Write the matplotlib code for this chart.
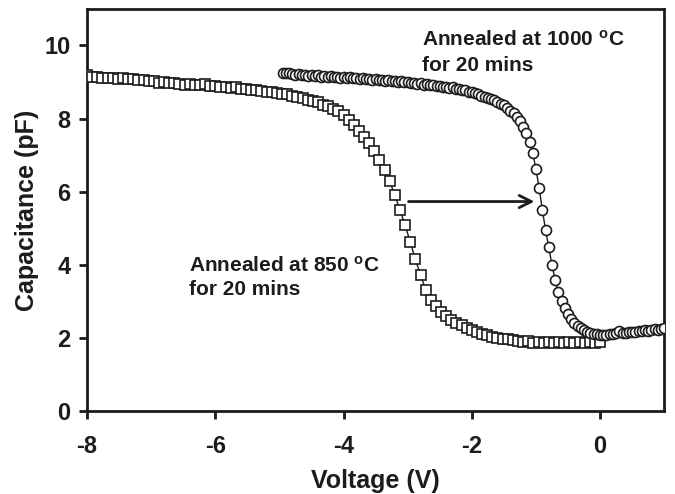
import matplotlib
matplotlib.use("Agg")
import matplotlib.pyplot as plt

plt.rcParams['font.family'] = ['Liberation Sans', 'DejaVu Sans']
plt.rcParams['font.weight'] = 'bold'
plt.rcParams['axes.unicode_minus'] = False
plt.rcParams['mathtext.fontset'] = 'custom'
plt.rcParams['mathtext.rm'] = 'Liberation Sans:bold'
plt.rcParams['mathtext.it'] = 'Liberation Sans:bold'
plt.rcParams['mathtext.bf'] = 'Liberation Sans:bold'

# 850 C anneal (squares)
v_850 = [-8.00, -7.92, -7.84, -7.76, -7.68, -7.60, -7.52, -7.44, -7.36, -7.28,
         -7.20, -7.12, -7.04, -6.96, -6.88, -6.80, -6.72, -6.64, -6.56, -6.48,
         -6.40, -6.32, -6.24, -6.16, -6.08, -6.00, -5.92, -5.84, -5.76, -5.68,
         -5.60, -5.52, -5.44, -5.36, -5.28, -5.20, -5.12, -5.04, -4.96, -4.88,
         -4.80, -4.72, -4.64, -4.56, -4.48, -4.40, -4.32, -4.24, -4.16, -4.08,
         -4.00, -3.92, -3.84, -3.76, -3.68, -3.60, -3.52, -3.44, -3.36, -3.28,
         -3.20, -3.12, -3.04, -2.96, -2.88, -2.80, -2.72, -2.64, -2.56, -2.48,
         -2.40, -2.32, -2.24, -2.16, -2.08, -2.00, -1.92, -1.84, -1.76, -1.68,
         -1.60, -1.52, -1.44, -1.36, -1.28, -1.20, -1.12, -1.04, -0.96, -0.88,
         -0.80, -0.72, -0.64, -0.56, -0.48, -0.40, -0.32, -0.24, -0.16, -0.08,
         0.00]
c_850 = [9.18, 9.14, 9.13, 9.12, 9.10, 9.12, 9.09, 9.10, 9.07, 9.08,
         9.05, 9.06, 9.03, 9.02, 8.98, 9.01, 8.96, 8.98, 8.95, 8.93,
         8.94, 8.91, 8.92, 8.95, 8.89, 8.90, 8.86, 8.87, 8.84, 8.85,
         8.81, 8.80, 8.78, 8.79, 8.75, 8.74, 8.72, 8.70, 8.68, 8.66,
         8.62, 8.60, 8.55, 8.52, 8.47, 8.44, 8.38, 8.33, 8.27, 8.20,
         8.10, 7.96, 7.82, 7.66, 7.50, 7.32, 7.10, 6.86, 6.60, 6.28,
         5.90, 5.50, 5.08, 4.62, 4.15, 3.72, 3.32, 3.05, 2.86, 2.72,
         2.60, 2.50, 2.42, 2.35, 2.28, 2.22, 2.16, 2.12, 2.08, 2.03,
         2.01, 1.98, 1.96, 1.93, 1.92, 1.89, 1.91, 1.87, 1.89, 1.86,
         1.88, 1.85, 1.89, 1.86, 1.90, 1.86, 1.88, 1.85, 1.89, 1.86,
         1.88]

# 1000 C anneal (circles)
v_1000 = [-4.95, -4.90, -4.85, -4.80, -4.75, -4.70, -4.65, -4.60, -4.55, -4.50,
          -4.45, -4.40, -4.35, -4.30, -4.25, -4.20, -4.15, -4.10, -4.05, -4.00,
          -3.95, -3.90, -3.85, -3.80, -3.75, -3.70, -3.65, -3.60, -3.55, -3.50,
          -3.45, -3.40, -3.35, -3.30, -3.25, -3.20, -3.15, -3.10, -3.05, -3.00,
          -2.95, -2.90, -2.85, -2.80, -2.75, -2.70, -2.65, -2.60, -2.55, -2.50,
          -2.45, -2.40, -2.35, -2.30, -2.25, -2.20, -2.15, -2.10, -2.05, -2.00,
          -1.95, -1.90, -1.85, -1.80, -1.75, -1.70, -1.65, -1.60, -1.55, -1.50,
          -1.45, -1.40, -1.35, -1.30, -1.25, -1.20, -1.15, -1.10, -1.05, -1.00,
          -0.95, -0.90, -0.85, -0.80, -0.75, -0.70, -0.65, -0.60, -0.55, -0.50,
          -0.45, -0.40, -0.35, -0.30, -0.25, -0.20, -0.15, -0.10, -0.05, 0.00,
          0.05, 0.10, 0.15, 0.20, 0.25, 0.30, 0.35, 0.40, 0.45, 0.50,
          0.55, 0.60, 0.65, 0.70, 0.75, 0.80, 0.85, 0.90, 0.95, 1.00]
c_1000 = [9.25, 9.24, 9.25, 9.22, 9.20, 9.23, 9.19, 9.20, 9.17, 9.19,
          9.16, 9.18, 9.15, 9.17, 9.14, 9.16, 9.13, 9.15, 9.12, 9.14,
          9.11, 9.13, 9.10, 9.12, 9.09, 9.10, 9.08, 9.09, 9.06, 9.08,
          9.05, 9.06, 9.03, 9.05, 9.02, 9.03, 9.00, 9.02, 8.99, 9.00,
          8.97, 8.98, 8.95, 8.96, 8.93, 8.95, 8.92, 8.92, 8.89, 8.90,
          8.87, 8.87, 8.84, 8.85, 8.82, 8.81, 8.78, 8.77, 8.74, 8.72,
          8.69, 8.66, 8.63, 8.60, 8.57, 8.54, 8.50, 8.46, 8.41, 8.36,
          8.30, 8.22, 8.14, 8.04, 7.93, 7.78, 7.60, 7.36, 7.05, 6.62,
          6.10, 5.50, 4.95, 4.48, 4.00, 3.58, 3.26, 3.02, 2.83, 2.66,
          2.52, 2.42, 2.33, 2.26, 2.21, 2.17, 2.14, 2.12, 2.10, 2.08,
          2.09, 2.07, 2.10, 2.11, 2.13, 2.20, 2.14, 2.13, 2.16, 2.17,
          2.16, 2.19, 2.18, 2.21, 2.20, 2.22, 2.23, 2.22, 2.24, 2.26]

ink = '#1c1c1c'

fig = plt.figure(figsize=(6.75, 4.94), dpi=100)
ax = fig.add_axes([0.129, 0.168, 0.855, 0.814])

ax.plot(v_850, c_850, '-s', color=ink, lw=1.0, ms=6.8, mfc='white',
        mec=ink, mew=1.2, zorder=3)
ax.plot(v_1000, c_1000, '-o', color=ink, lw=1.0, ms=7.2, mfc='white',
        mec=ink, mew=1.2, zorder=4)

ax.annotate('', xy=(-0.98, 5.73), xytext=(-3.03, 5.73),
            arrowprops=dict(arrowstyle='->', color=ink, lw=2,
                            mutation_scale=22), zorder=5)

fs_note = 15
ax.text(-2.77, 10.0, r'Annealed at 1000 $^{\mathrm{o}}$C', fontsize=fs_note,
        fontweight='bold', color=ink, va='baseline', ha='left')
ax.text(-2.77, 9.29, 'for 20 mins', fontsize=fs_note, fontweight='bold',
        color=ink, va='baseline', ha='left')
ax.text(-6.41, 3.82, r'Annealed at 850 $^{\mathrm{o}}$C', fontsize=fs_note,
        fontweight='bold', color=ink, va='baseline', ha='left')
ax.text(-6.41, 3.18, 'for 20 mins', fontsize=fs_note, fontweight='bold',
        color=ink, va='baseline', ha='left')

ax.set_xlim(-8, 1)
ax.set_ylim(0, 11)
ax.set_xticks([-8, -6, -4, -2, 0])
ax.set_yticks([0, 2, 4, 6, 8, 10])

ax.set_xlabel('Voltage (V)', fontsize=18, fontweight='bold', color=ink,
              labelpad=8)
ax.set_ylabel('Capacitance (pF)', fontsize=18, fontweight='bold', color=ink,
              labelpad=4)

for s in ax.spines.values():
    s.set_linewidth(2)
    s.set_color(ink)
ax.tick_params(direction='out', length=6, width=2, labelsize=17,
               colors=ink, pad=6)
ax.tick_params(axis='x', pad=11)
for lab in ax.get_xticklabels() + ax.get_yticklabels():
    lab.set_fontweight('bold')

fig.savefig('out.png', dpi=100)
